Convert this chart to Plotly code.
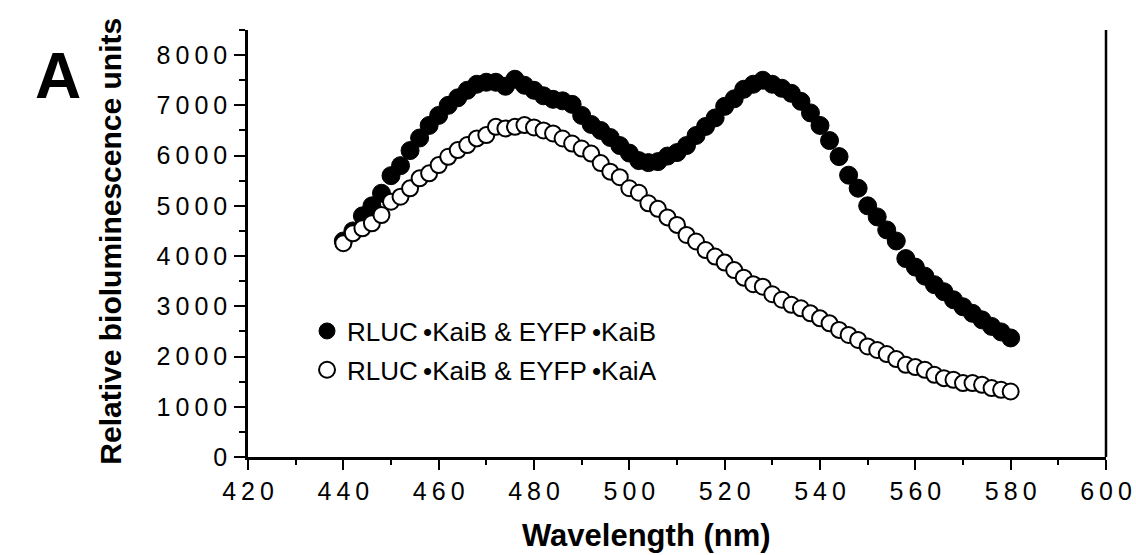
import plotly.graph_objects as go

wavelength = list(range(440, 582, 2))

kaib_kaib = [4300, 4500, 4800, 5000, 5250, 5600, 5800, 6100, 6350, 6600,
             6800, 7000, 7150, 7300, 7420, 7460, 7460, 7380, 7520, 7400,
             7300, 7190, 7120, 7090, 7020, 6800, 6620, 6500, 6360, 6200,
             6050, 5900, 5860, 5880, 5990, 6060, 6200, 6400, 6580, 6750,
             6980, 7130, 7320, 7420, 7500, 7420, 7340, 7240, 7080, 6850,
             6600, 6300, 5980, 5610, 5350, 5000, 4780, 4520, 4300, 3950,
             3780, 3600, 3430, 3290, 3130, 2990, 2860, 2730, 2600, 2490,
             2370]

kaib_kaia = [4255, 4453, 4553, 4652, 4817, 5082, 5181, 5348, 5547, 5646,
             5811, 5976, 6109, 6209, 6342, 6408, 6572, 6540, 6572, 6607,
             6560, 6500, 6440, 6340, 6240, 6140, 6040, 5850, 5680, 5570,
             5350, 5260, 5050, 4940, 4770, 4620, 4420, 4290, 4120, 3990,
             3870, 3720, 3570, 3440, 3390, 3240, 3130, 3030, 2960, 2860,
             2760, 2660, 2530, 2430, 2330, 2200, 2130, 2050, 1950, 1835,
             1790, 1736, 1636, 1570, 1537, 1471, 1471, 1437, 1372, 1338,
             1304]

series_names = ["RLUC\u2009•KaiB & EYFP\u2009•KaiB", "RLUC\u2009•KaiB & EYFP\u2009•KaiA"]
x_ticks = list(range(420, 620, 20))
y_ticks = list(range(0, 9000, 1000))


def spaced(v):
    return "\u2009".join(str(v))


FONT = "Liberation Sans, Arial, Helvetica, sans-serif"

fig = go.Figure()
fig.add_trace(go.Scatter(
    x=wavelength, y=kaib_kaib, mode="markers", name=series_names[0], legendgroup="a",
    marker=dict(size=18, color="black", line=dict(color="black", width=1)),
))
fig.add_trace(go.Scatter(
    x=wavelength, y=kaib_kaia, mode="markers", name=series_names[1], legendgroup="b",
    marker=dict(size=16, color="white", line=dict(color="black", width=2)),
))

fig.update_layout(
    width=1136, height=555,
    margin=dict(l=248, r=30, t=30, b=98, autoexpand=False),
    paper_bgcolor="white", plot_bgcolor="white",
    font=dict(family=FONT, color="black"),
    showlegend=True,
    legend=dict(x=0.0688, y=0.35, xanchor="left", yanchor="top",
                font=dict(size=26, family=FONT), bgcolor="rgba(0,0,0,0)",
                itemwidth=30, tracegroupgap=2),
)
fig.add_annotation(text="<b>A</b>", x=-0.222, y=0.893, xref="paper", yref="paper",
                   xanchor="center", yanchor="middle", showarrow=False,
                   font=dict(size=64, family=FONT))
fig.add_annotation(text="<b>Relative bioluminescence units</b>", x=-0.160, y=0.506,
                   xref="paper", yref="paper", xanchor="center", yanchor="middle",
                   textangle=-90, showarrow=False, font=dict(size=30, family=FONT))
fig.add_annotation(text="<b>Wavelength (nm)</b>", x=0.464, y=-0.185,
                   xref="paper", yref="paper", xanchor="center", yanchor="middle",
                   showarrow=False, font=dict(size=31, family=FONT))

fig.update_xaxes(
    range=[420, 600], tickvals=x_ticks, ticktext=[spaced(v) for v in x_ticks],
    ticks="outside", ticklen=10, tickwidth=2, tickcolor="black",
    minor=dict(dtick=10, ticks="outside", ticklen=5, tickwidth=2, tickcolor="black"),
    showline=True, linecolor="black", linewidth=2.5, showgrid=False, zeroline=False,
    tickfont=dict(size=25, family=FONT), automargin=False,
)
fig.update_yaxes(
    range=[0, 8500], tickvals=y_ticks, ticktext=[spaced(v) for v in y_ticks],
    ticks="outside", ticklen=11, tickwidth=2, tickcolor="black",
    minor=dict(dtick=500, ticks="outside", ticklen=6, tickwidth=2, tickcolor="black"),
    showline=True, linecolor="black", linewidth=2.5, showgrid=False, zeroline=False,
    tickfont=dict(size=25, family=FONT), ticklabelstandoff=2, automargin=False,
)
fig.add_shape(type="line", xref="paper", yref="paper", x0=1, x1=1, y0=0, y1=1,
              line=dict(color="black", width=2.5))

fig.write_html("out.html", config={"displayModeBar": False},
               post_script="document.body.style.margin='0px';")
